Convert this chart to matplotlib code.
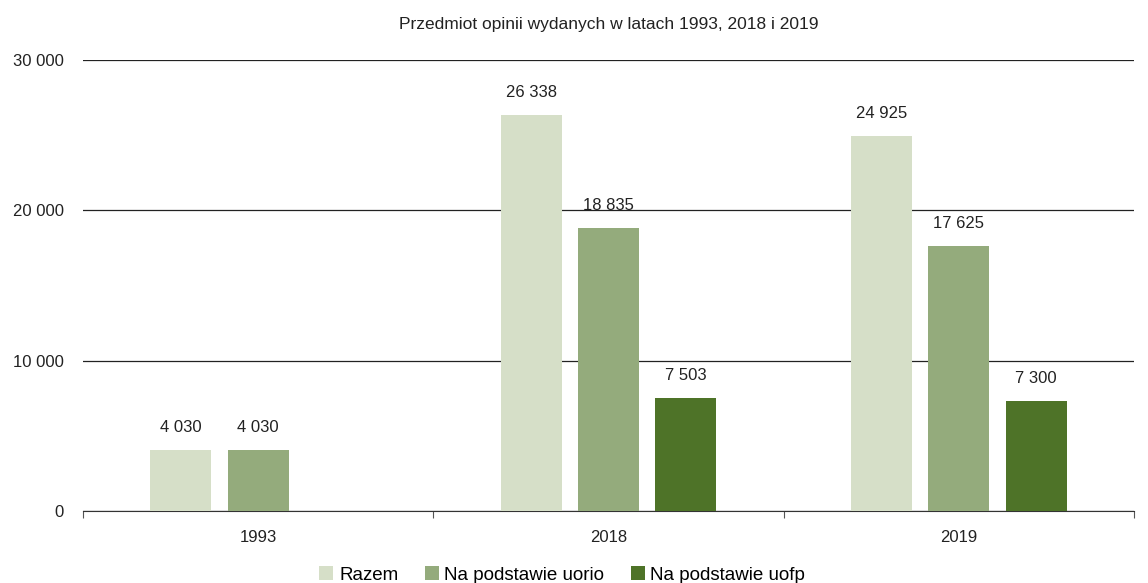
import numpy as np
import matplotlib.pyplot as plt
from matplotlib.ticker import FuncFormatter

years = ['1993', '2018', '2019']
razem = [4030, 26338, 24925]
uorio = [4030, 18835, 17625]
uofp = [np.nan, 7503, 7300]
series = [('Razem', razem, '#d6dfc8'),
          ('Na podstawie uorio', uorio, '#94ab7c'),
          ('Na podstawie uofp', uofp, '#4e7328')]

plt.rcParams['font.family'] = ['Liberation Sans', 'DejaVu Sans']

fig = plt.figure(figsize=(11.48, 5.83), dpi=100)
ax = fig.add_axes([0.0723, 0.1235, 0.9155, 0.7735])

x = np.arange(len(years))
step = 0.221
width = 0.174
for i, (name, vals, color) in enumerate(series):
    pos = x + (i - 1) * step
    ax.bar(pos, vals, width, color=color, label=name, zorder=3)
    for p, v in zip(pos, vals):
        if not np.isnan(v):
            ax.text(p, v + 1000, f'{v:,}'.replace(',', ' '), ha='center', va='bottom',
                    fontsize=12, color='#222222')

ax.set_xlim(-0.5, 2.5)
ax.set_ylim(0, 30000)
ax.set_yticks([0, 10000, 20000, 30000])
ax.yaxis.set_major_formatter(FuncFormatter(lambda v, p: f'{int(v):,}'.replace(',', ' ')))
ax.grid(axis='y', color='#222222', linewidth=0.9, zorder=0)
ax.tick_params(axis='y', length=0, labelsize=12, pad=14, labelcolor='#222222')

ax.set_xticks([-0.5, 0.5, 1.5, 2.5])
ax.set_xticklabels([])
ax.set_xticks(x, minor=True)
ax.set_xticklabels(years, minor=True)
ax.tick_params(axis='x', which='major', direction='out', length=5, color='#555555')
ax.tick_params(axis='x', which='minor', length=0, labelsize=12, pad=14, labelcolor='#222222')

for s in ['left', 'right', 'top']:
    ax.spines[s].set_visible(False)
ax.spines['bottom'].set_color('#333333')

ax.set_title('Przedmiot opinii wydanych w latach 1993, 2018 i 2019', fontsize=12.5,
             color='#222222', pad=22)

ax.legend(loc='center', bbox_to_anchor=(0.456, -0.142), ncol=3, frameon=False,
          fontsize=13.5, handlelength=0.75, handleheight=0.75, handletextpad=0.3,
          columnspacing=1.4, borderaxespad=0, borderpad=0)

fig.savefig('out.png', dpi=100)
